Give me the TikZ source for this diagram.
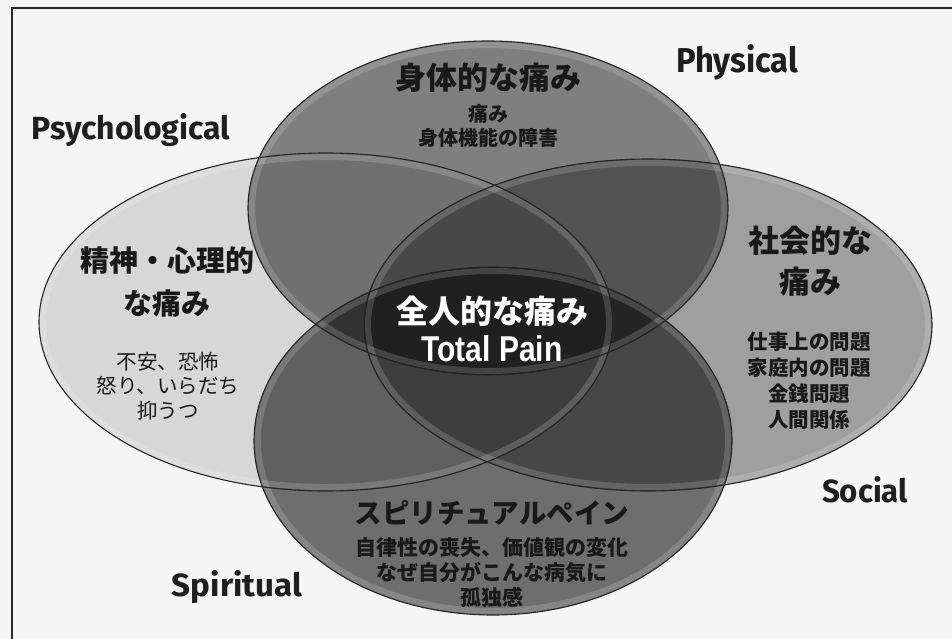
\documentclass[tikz,border=0pt]{standalone}
\usepackage{fontspec}
\setmainfont{Liberation Sans}
\newfontfamily\jp{Noto Sans CJK JP}
\newfontfamily\lblfont{Fira Sans}
\begin{document}
\begin{tikzpicture}[x=1pt,y=-1pt,
  circfill/.style={fill=black},
  circrim/.style={draw=white,line width=6pt,draw opacity=0.16},
  circline/.style={draw=black!85,line width=1.1pt},
  lbl/.style={text=black!88,inner sep=0pt,font=\lblfont\bfseries},
  jtitle/.style={text=black!90,inner sep=0pt,align=center,font=\jp\bfseries\fontsize{31}{41}\selectfont},
  jbody/.style={text=black!90,inner sep=0pt,align=center,font=\jp\fontsize{20.5}{24.5}\selectfont},
  jbodyb/.style={text=black!90,inner sep=0pt,align=center,font=\jp\bfseries\fontsize{20.5}{26}\selectfont}]
\useasboundingbox (0,0) rectangle (952,639);
\fill[black!4] (0,0) rectangle (952,639);
\draw[black!85,line width=2.4pt] (12,639) -- (12,8) -- (952,8);

% ellipse fills (multiplicative darkening)
\fill[circfill,fill opacity=0.12] (326,322) ellipse [x radius=287, y radius=169];
\fill[circfill,fill opacity=0.48] (488,208) ellipse [x radius=240, y radius=167];
\fill[circfill,fill opacity=0.35] (648,325) ellipse [x radius=284, y radius=166];
\fill[circfill,fill opacity=0.55] (493,441) ellipse [x radius=239, y radius=174];

% soft inner rims
\draw[circrim] (326,322) ellipse [x radius=283, y radius=165];
\draw[circrim] (488,208) ellipse [x radius=236, y radius=163];
\draw[circrim] (648,325) ellipse [x radius=280, y radius=162];
\draw[circrim] (493,441) ellipse [x radius=235, y radius=170];

% outlines
\draw[circline] (326,322) ellipse [x radius=287, y radius=169];
\draw[circline] (488,208) ellipse [x radius=240, y radius=167];
\draw[circline] (648,325) ellipse [x radius=284, y radius=166];
\draw[circline] (493,441) ellipse [x radius=239, y radius=174];

% English labels
\node[lbl] (physical) at (737,62) {\resizebox{122pt}{28pt}{Physical}};
\node[lbl] (psych) at (131,130) {\resizebox{198pt}{26pt}{Psychological}};
\node[lbl] (social) at (865,490) {\resizebox{86pt}{26pt}{Social}};
\node[lbl] (spirit) at (237,587) {\resizebox{130pt}{26pt}{Spiritual}};

% Physical
\node[jtitle] (phyt) at (488,78) {身体的な痛み};
\node[jbodyb,font=\jp\bfseries\fontsize{20}{24}\selectfont] (phyb) at (488,126) {痛み\\身体機能の障害};

% Psychological
\node[jtitle,font=\jp\bfseries\fontsize{29}{43}\selectfont] (psyt) at (167,282) {精神・心理的\\な痛み};
\node[jbody] (psyb) at (168,386) {不安、恐怖\\怒り、いらだち\\抑うつ};

% Social
\node[jtitle] (soct) at (810,261) {社会的な\\痛み};
\node[jbodyb] (socb) at (809,381) {仕事上の問題\\家庭内の問題\\金銭問題\\人間関係};

% Spiritual
\node[jtitle,font=\jp\bfseries\fontsize{27.5}{30}\selectfont] (spt) at (492,513) {スピリチュアルペイン};
\node[jbodyb,font=\jp\bfseries\fontsize{21}{25}\selectfont] (spb) at (492,573) {自律性の喪失、価値観の変化\\なぜ自分がこんな病気に\\孤独感};

% Center
\node[jtitle,text=white,font=\jp\bfseries\fontsize{32}{36}\selectfont] (tot) at (492,311) {全人的な痛み};
\node[text=white,inner sep=0pt,font=\bfseries] (totalpain) at (492,349) {\resizebox{141pt}{26pt}{Total Pain}};
\end{tikzpicture}
\end{document}
